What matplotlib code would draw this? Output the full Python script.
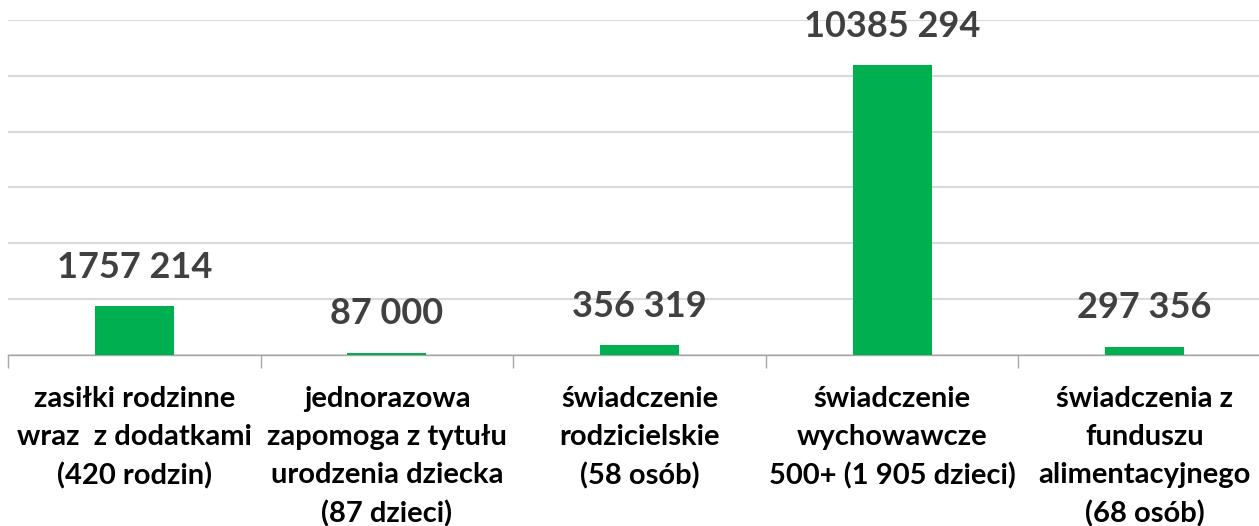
import numpy as np
import matplotlib.pyplot as plt
from matplotlib.ticker import MultipleLocator, FixedLocator

categories = [
    "zasiłki rodzinne\nwraz  z dodatkami\n(420 rodzin)",
    "jednorazowa\nzapomoga z tytułu\nurodzenia dziecka\n(87 dzieci)",
    "świadczenie\nrodzicielskie\n(58 osób)",
    "świadczenie\nwychowawcze\n500+ (1 905 dzieci)",
    "świadczenia z\nfunduszu\nalimentacyjnego\n(68 osób)",
]
values = [1757214, 87000, 356319, 10385294, 297356]
value_labels = ["1757 214", "87 000", "356 319", "10385 294", "297 356"]

plt.rcParams['font.family'] = ['Lato', 'DejaVu Sans']

fig = plt.figure(figsize=(12.59, 5.26), dpi=100)
ax = fig.add_axes([8 / 1259, 1 - 355 / 526, 1263 / 1259, 335 / 526])

x = np.arange(len(values))
bars = ax.bar(x, values, width=0.313, color='#00B050', zorder=3)

for xi, v, lab in zip(x, values, value_labels):
    ax.annotate(lab, (xi, v), xytext=(0, 16), textcoords='offset points',
                ha='center', va='bottom', fontsize=26, fontweight='bold',
                color='#404040')

ax.set_xlim(-0.5, len(values) - 0.5)
ax.set_ylim(0, 12000000)
ax.yaxis.set_major_locator(MultipleLocator(2000000))
ax.grid(axis='y', color='#D9D9D9', linewidth=1.5, zorder=0)
ax.set_yticklabels([])
ax.tick_params(axis='y', length=0)

ax.set_xticks(x)
ax.set_xticklabels(categories, fontsize=21, fontweight='bold', color='black',
                   linespacing=1.58, va='top')
ax.tick_params(axis='x', which='major', length=0, pad=22)
ax.xaxis.set_minor_locator(FixedLocator(np.arange(len(values) + 1) - 0.5))
ax.tick_params(axis='x', which='minor', length=9, color='#A6A6A6', width=1)

for s in ['top', 'right', 'left']:
    ax.spines[s].set_visible(False)
ax.spines['bottom'].set_color('#A6A6A6')
ax.spines['bottom'].set_linewidth(1)

fig.savefig('out.png', dpi=100)
